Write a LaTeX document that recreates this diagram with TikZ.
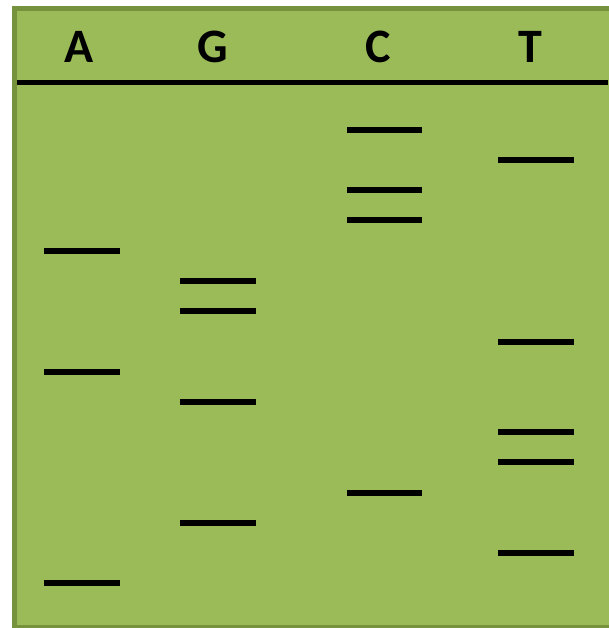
\documentclass[tikz,border=0pt]{standalone}
\usepackage{fontspec}
\setmainfont{Carlito}
\definecolor{gelgreen}{HTML}{9BBB59}
\definecolor{gelborder}{HTML}{76923C}
\tikzset{
  band/.style={line width=6pt},
  lane/.style={font=\fontsize{48}{50}\selectfont\bfseries,anchor=base,inner sep=0pt}
}
\begin{document}
\begin{tikzpicture}[x=1pt,y=-1pt]
        \useasboundingbox (0,0) rectangle (608,628);
        \draw[fill=gelgreen,draw=gelborder,line width=5pt] (14.5,8.5) rectangle (625,627);
        % lane labels
        \node[lane] (A) at (79,63) {A};
        \node[lane] (G) at (213,63) {G};
        \node[lane] (C) at (378,63) {C};
        \node[lane] (T) at (530,63) {T};
        \draw[line width=5pt] (17,82.5)--(608,82.5);
        % A lane
        \draw[band] (44,251)--+(76,0);
        \draw[band] (44,372)--+(76,0);
        \draw[band] (44,583)--+(76,0);
        % G lane
        \draw[band] (180,281)--+(76,0);
        \draw[band] (180,311)--+(76,0);
        \draw[band] (180,402)--+(76,0);
        \draw[band] (180,523)--+(76,0);
        % C lane
        \draw[band] (347,130)--+(75,0);
        \draw[band] (347,190)--+(75,0);
        \draw[band] (347,220)--+(75,0);
        \draw[band] (347,493)--+(75,0);
        % T lane
        \draw[band] (498,160)--+(76,0);
        \draw[band] (498,342)--+(76,0);
        \draw[band] (498,432)--+(76,0);
        \draw[band] (498,462)--+(76,0);
        \draw[band] (498,553)--+(76,0);
\end{tikzpicture}
\end{document}
